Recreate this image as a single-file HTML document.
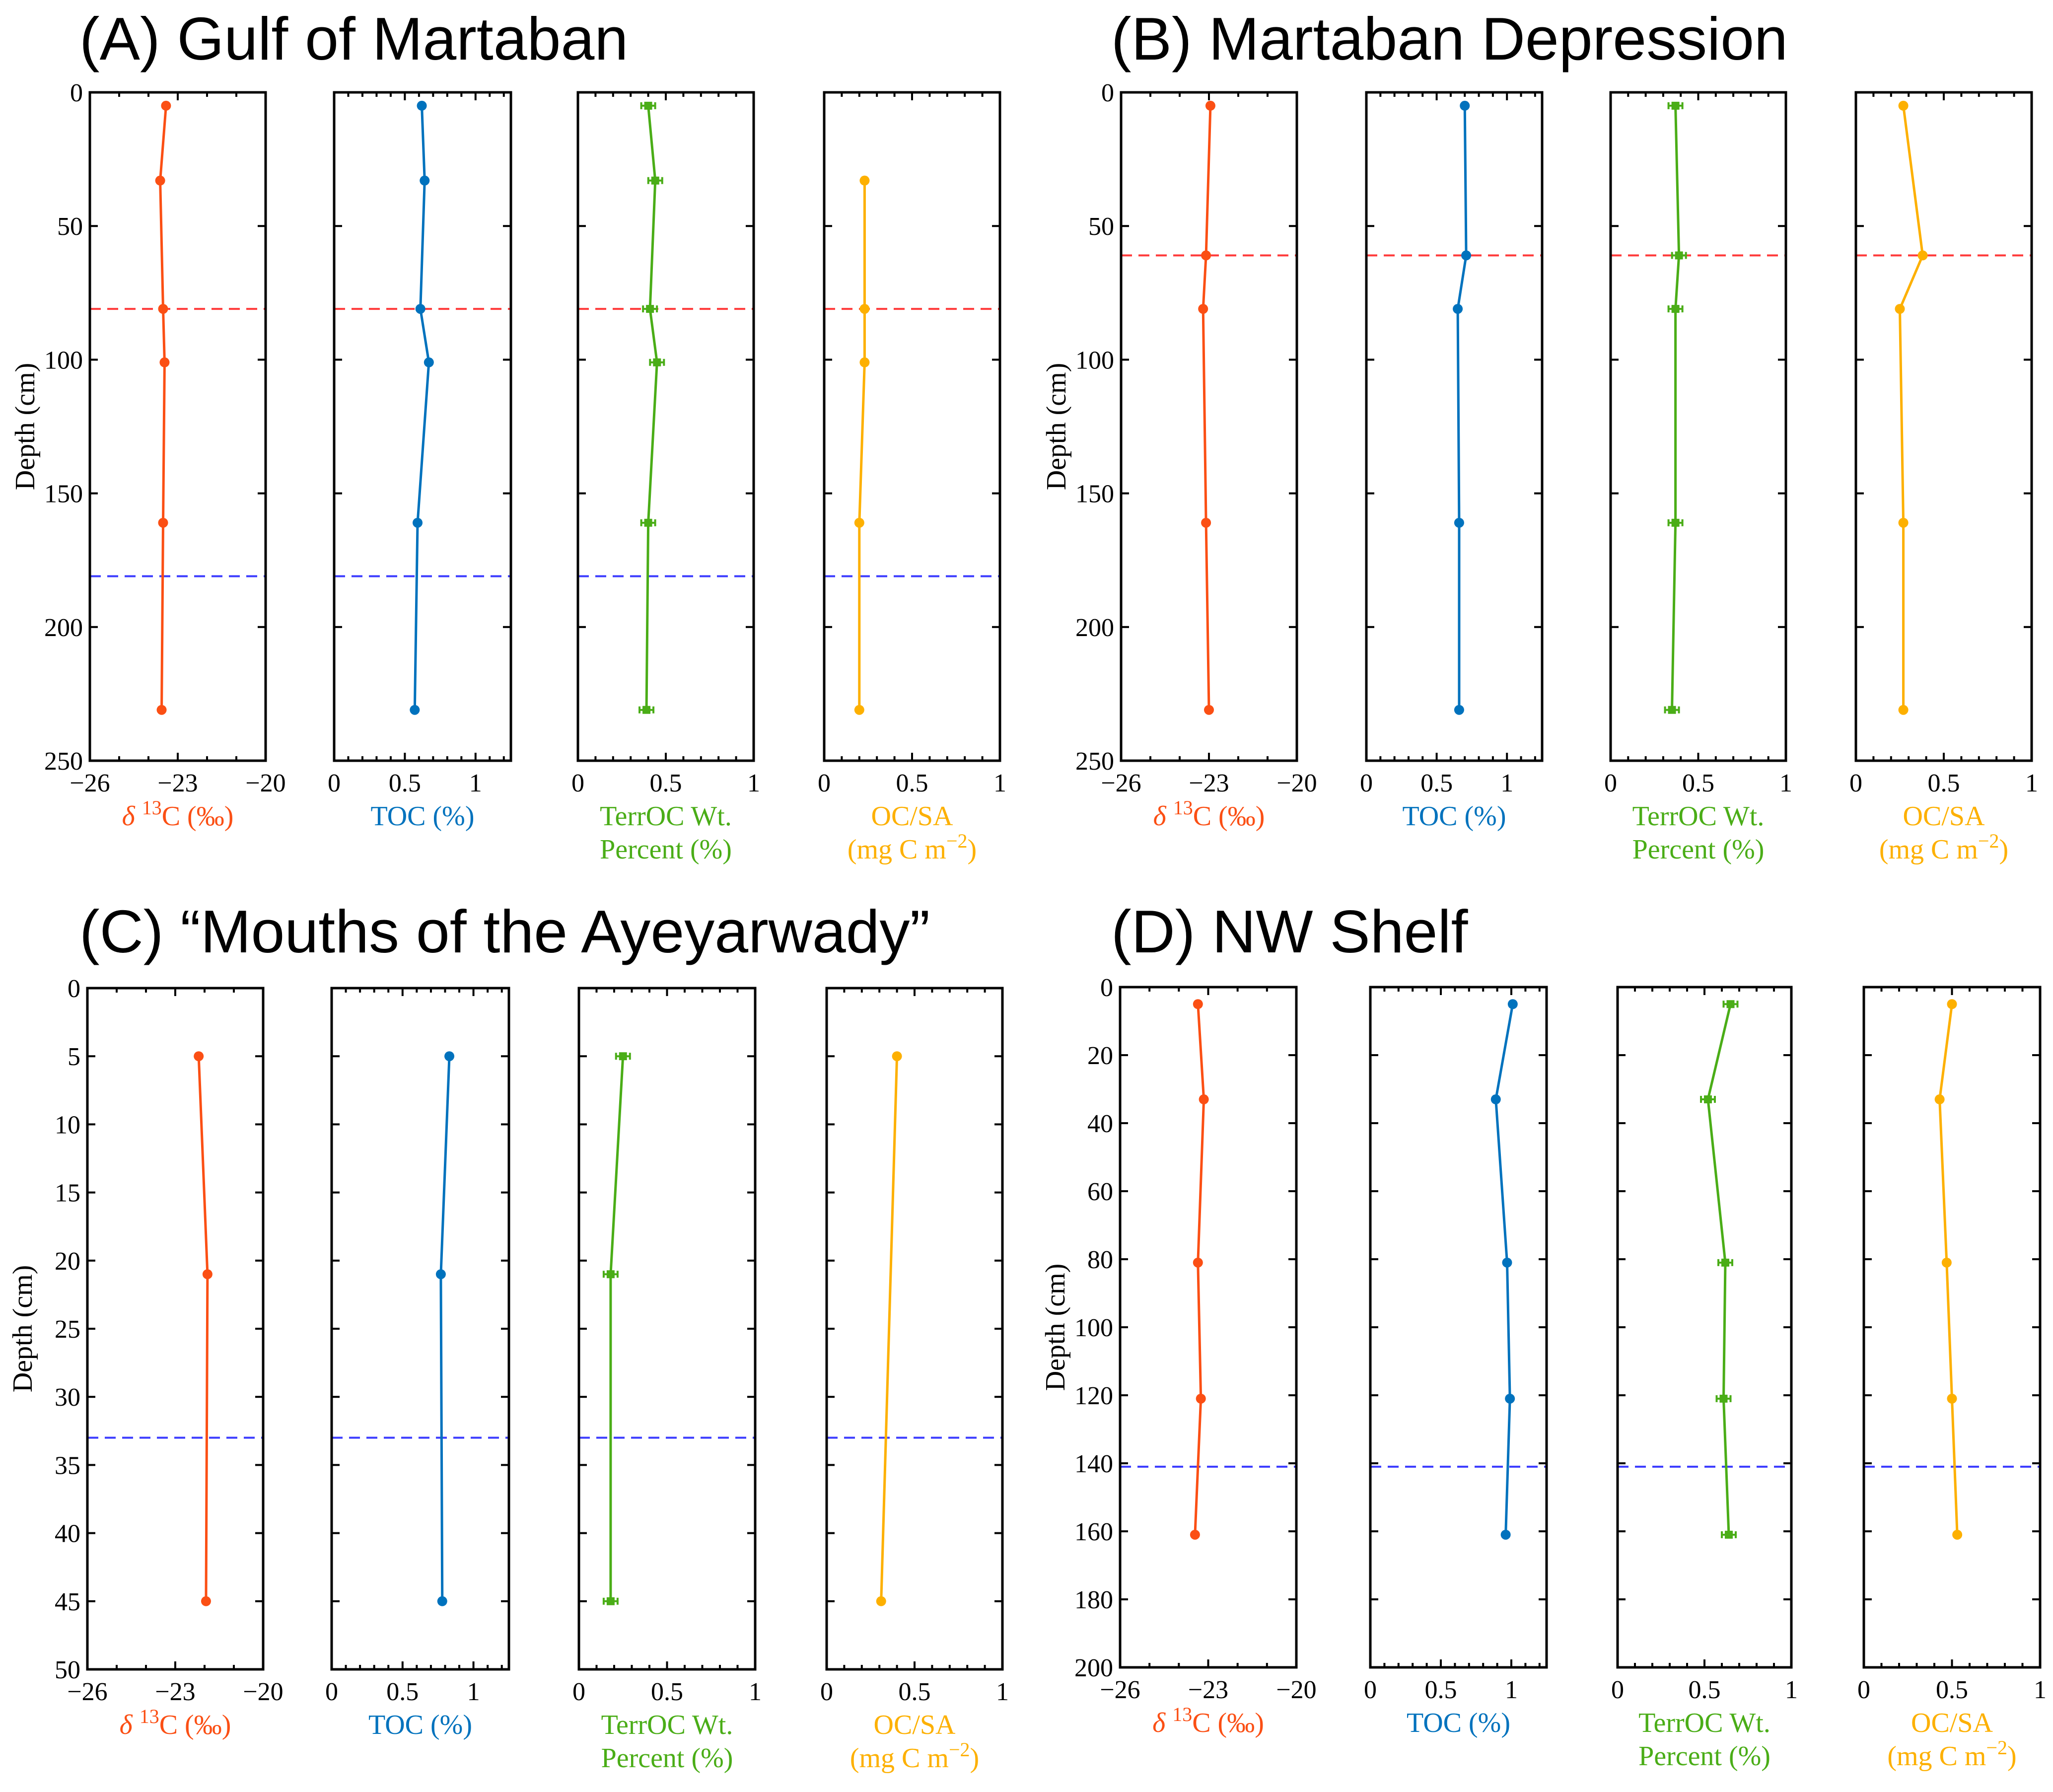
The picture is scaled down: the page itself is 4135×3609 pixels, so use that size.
<!DOCTYPE html>
<html><head><meta charset="utf-8">
<style>
html,body{margin:0;padding:0;background:#fff;}
svg{display:block;}
.tick{font-family:"Liberation Serif",serif;font-size:52px;fill:#000;}
.lab{font-family:"Liberation Serif",serif;font-size:56px;}
.title{font-family:"Liberation Sans",sans-serif;font-size:122px;fill:#000;}
</style></head>
<body>
<svg id="fig" width="4135" height="3609" viewBox="0 0 4135 3609" xmlns="http://www.w3.org/2000/svg"></svg>
<script>
// ---- data ----
const depthsA = [5, 33, 81, 101, 161, 231];
const d13cA = [-23.4, -23.6, -23.5, -23.45, -23.5, -23.55];
const tocA = [0.62, 0.64, 0.61, 0.67, 0.59, 0.57];
const terrA = [0.40, 0.44, 0.41, 0.45, 0.40, 0.39];
const ocsaDepthsA = [33, 81, 101, 161, 231];
const ocsaA = [0.23, 0.23, 0.23, 0.20, 0.20];

const depthsB = [5, 61, 81, 161, 231];
const d13cB = [-22.95, -23.1, -23.2, -23.1, -23.0];
const tocB = [0.70, 0.71, 0.65, 0.66, 0.66];
const terrB = [0.37, 0.39, 0.37, 0.37, 0.35];
const ocsaB = [0.27, 0.38, 0.25, 0.27, 0.27];

const depthsC = [5, 21, 45];
const d13cC = [-22.2, -21.9, -21.95];
const tocC = [0.83, 0.77, 0.78];
const terrC = [0.25, 0.18, 0.18];
const ocsaDepthsC = [5, 45];
const ocsaC = [0.40, 0.31];

const depthsD = [5, 33, 81, 121, 161];
const d13cD = [-23.35, -23.15, -23.35, -23.25, -23.45];
const tocD = [1.01, 0.89, 0.97, 0.99, 0.96];
const terrD = [0.65, 0.52, 0.62, 0.61, 0.64];
const ocsaD = [0.50, 0.43, 0.47, 0.50, 0.53];

const yTicksAB = [0, 50, 100, 150, 200, 250];
const yTicksC = [0, 5, 10, 15, 20, 25, 30, 35, 40, 45, 50];
const yTicksD = [0, 20, 40, 60, 80, 100, 120, 140, 160, 180, 200];
const d13cTicks = [-26, -23, -20];
const fracTicks = [0, 0.5, 1];

const refLinesA = [{d:81,c:'#ff3b3b'},{d:181,c:'#3b3bff'}];
const refLinesB = [{d:61,c:'#ff3b3b'}];
const refLinesC = [{d:33,c:'#3b3bff'}];
const refLinesD = [{d:141,c:'#3b3bff'}];

// ---- drawing ----
const NS = 'http://www.w3.org/2000/svg';
const svg = document.getElementById('fig');
function el(tag, attrs, parent){
  const e = document.createElementNS(NS, tag);
  for (const k in attrs) e.setAttribute(k, attrs[k]);
  (parent||svg).appendChild(e);
  return e;
}
const COL = {red:'#fb4f14', blue:'#0072bd', green:'#4aad17', orange:'#fdb000'};
const fmt = v => (v<0 ? '\u2212'+Math.abs(v) : String(v));

function subplot(g, box, ymax, yTicks, showY, xmin, xmax, xTicks, minorStep, depths, vals, color, marker, refs, labelLines, name){
  const [L, R, T, B] = box;
  const sx = v => L + (v - xmin) / (xmax - xmin) * (R - L);
  const sy = d => T + d / ymax * (B - T);
  const ax = el('g', {}, g);
  
  
  refs.forEach(r => {
    const ln = el('line', {x1:L, x2:R, y1:sy(r.d), y2:sy(r.d), stroke:r.c, 'stroke-width':4, 'stroke-dasharray':'22,13'}, ax);
    
    
  });
  const pts = depths.map((d,i) => sx(vals[i]) + ',' + sy(d)).join(' ');
  const pl = el('polyline', {points:pts, fill:'none', stroke:color, 'stroke-width':5}, ax);
  
  
  depths.forEach((d,i) => {
    const x = sx(vals[i]), y = sy(d);
    let m;
    if (marker === 'sq') {
      el('line', {x1:x-14, x2:x+14, y1:y, y2:y, stroke:color, 'stroke-width':4}, ax);
      el('line', {x1:x-14, x2:x-14, y1:y-7, y2:y+7, stroke:color, 'stroke-width':4}, ax);
      el('line', {x1:x+14, x2:x+14, y1:y-7, y2:y+7, stroke:color, 'stroke-width':4}, ax);
      m = el('rect', {x:x-8, y:y-8, width:16, height:16, fill:color}, ax);
    } else {
      m = el('circle', {cx:x, cy:y, r:10, fill:color}, ax);
    }
    
    
  });
  const fr = el('rect', {x:L, y:T, width:R-L, height:B-T, fill:'none', stroke:'#000', 'stroke-width':5}, ax);
  
  
  for (let v = xmin; v <= xmax + 1e-9; v += minorStep) {
    const x = sx(v);
    const major = xTicks.some(t => Math.abs(t - v) < 1e-6);
    const len = major ? 16 : 9;
    el('line', {x1:x, x2:x, y1:B, y2:B-len, stroke:'#000', 'stroke-width':4}, ax);
    el('line', {x1:x, x2:x, y1:T, y2:T+len, stroke:'#000', 'stroke-width':4}, ax);
  }
  xTicks.forEach(v => {
    const t = el('text', {x:sx(v), y:B+62, 'text-anchor':'middle', class:'tick'}, ax);
    t.textContent = fmt(v);
    
    
  });
  yTicks.forEach(v => {
    const y = sy(v);
    el('line', {x1:L, x2:L+16, y1:y, y2:y, stroke:'#000', 'stroke-width':4}, ax);
    el('line', {x1:R, x2:R-16, y1:y, y2:y, stroke:'#000', 'stroke-width':4}, ax);
    if (showY) {
      const t = el('text', {x:L-14, y:y+18, 'text-anchor':'end', class:'tick'}, ax);
      t.textContent = v;
      
      
    }
  });
  if (showY) {
    const cy = (T+B)/2;
    const t = el('text', {x:0, y:0, 'text-anchor':'middle', class:'lab', fill:'#000', transform:`translate(${L-112},${cy}) rotate(-90)`}, ax);
    t.textContent = 'Depth (cm)';
    
    
  }
  const cx = (L+R)/2;
  labelLines.forEach((ln, i) => {
    const t = el('text', {x:cx, y:B+130 + i*67, 'text-anchor':'middle', class:'lab', fill:color}, ax);
    t.innerHTML = ln;
    
    
  });
}

const LBL_D13 = ['<tspan font-style="italic">δ</tspan> <tspan dy="-22" font-size="40">13</tspan><tspan dy="22">C (‰)</tspan>'];
const LBL_TOC = ['TOC (%)'];
const LBL_TERR = ['TerrOC Wt.', 'Percent (%)'];
const LBL_OCSA = ['OC/SA', '(mg C m<tspan dy="-22" font-size="40">−2</tspan><tspan dy="22">)</tspan>'];

function panel(name, title, titleX, titleY, xs, T, B, ymax, yTicks, d13d, d13v, tocd, tocv, terrd, terrv, ocd, ocv, refs){
  const g = el('g', {});
  
  
  const tt = el('text', {x:titleX, y:titleY, class:'title'}, g);
  tt.textContent = title;
  
  
  subplot(g, [xs[0][0], xs[0][1], T, B], ymax, yTicks, true, -26, -20, d13cTicks, 1, d13d, d13v, COL.red, 'c', refs, LBL_D13, 'd13c');
  subplot(g, [xs[1][0], xs[1][1], T, B], ymax, yTicks, false, 0, 1.25, fracTicks, 0.1, tocd, tocv, COL.blue, 'c', refs, LBL_TOC, 'toc');
  subplot(g, [xs[2][0], xs[2][1], T, B], ymax, yTicks, false, 0, 1, fracTicks, 0.1, terrd, terrv, COL.green, 'sq', refs, LBL_TERR, 'terroc');
  subplot(g, [xs[3][0], xs[3][1], T, B], ymax, yTicks, false, 0, 1, fracTicks, 0.1, ocd, ocv, COL.orange, 'c', refs, LBL_OCSA, 'ocsa');
}

panel('panel-a', '(A) Gulf of Martaban', 160, 120,
  [[181,535],[673,1029],[1164,1518],[1660,2014]], 186, 1532, 250, yTicksAB,
  depthsA, d13cA, depthsA, tocA, depthsA, terrA, ocsaDepthsA, ocsaA, refLinesA);
panel('panel-b', '(B) Martaban Depression', 2238, 120,
  [[2258,2612],[2752,3106],[3244,3597],[3738,4092]], 186, 1532, 250, yTicksAB,
  depthsB, d13cB, depthsB, tocB, depthsB, terrB, depthsB, ocsaB, refLinesB);
panel('panel-c', '(C) \u201cMouths of the Ayeyarwady\u201d', 160, 1918,
  [[176,530],[668,1025],[1166,1521],[1665,2019]], 1990, 3362, 50, yTicksC,
  depthsC, d13cC, depthsC, tocC, depthsC, terrC, ocsaDepthsC, ocsaC, refLinesC);
panel('panel-d', '(D) NW Shelf', 2238, 1918,
  [[2256,2611],[2760,3115],[3258,3608],[3754,4109]], 1988, 3358, 200, yTicksD,
  depthsD, d13cD, depthsD, tocD, depthsD, terrD, depthsD, ocsaD, refLinesD);
</script>
</body></html>
